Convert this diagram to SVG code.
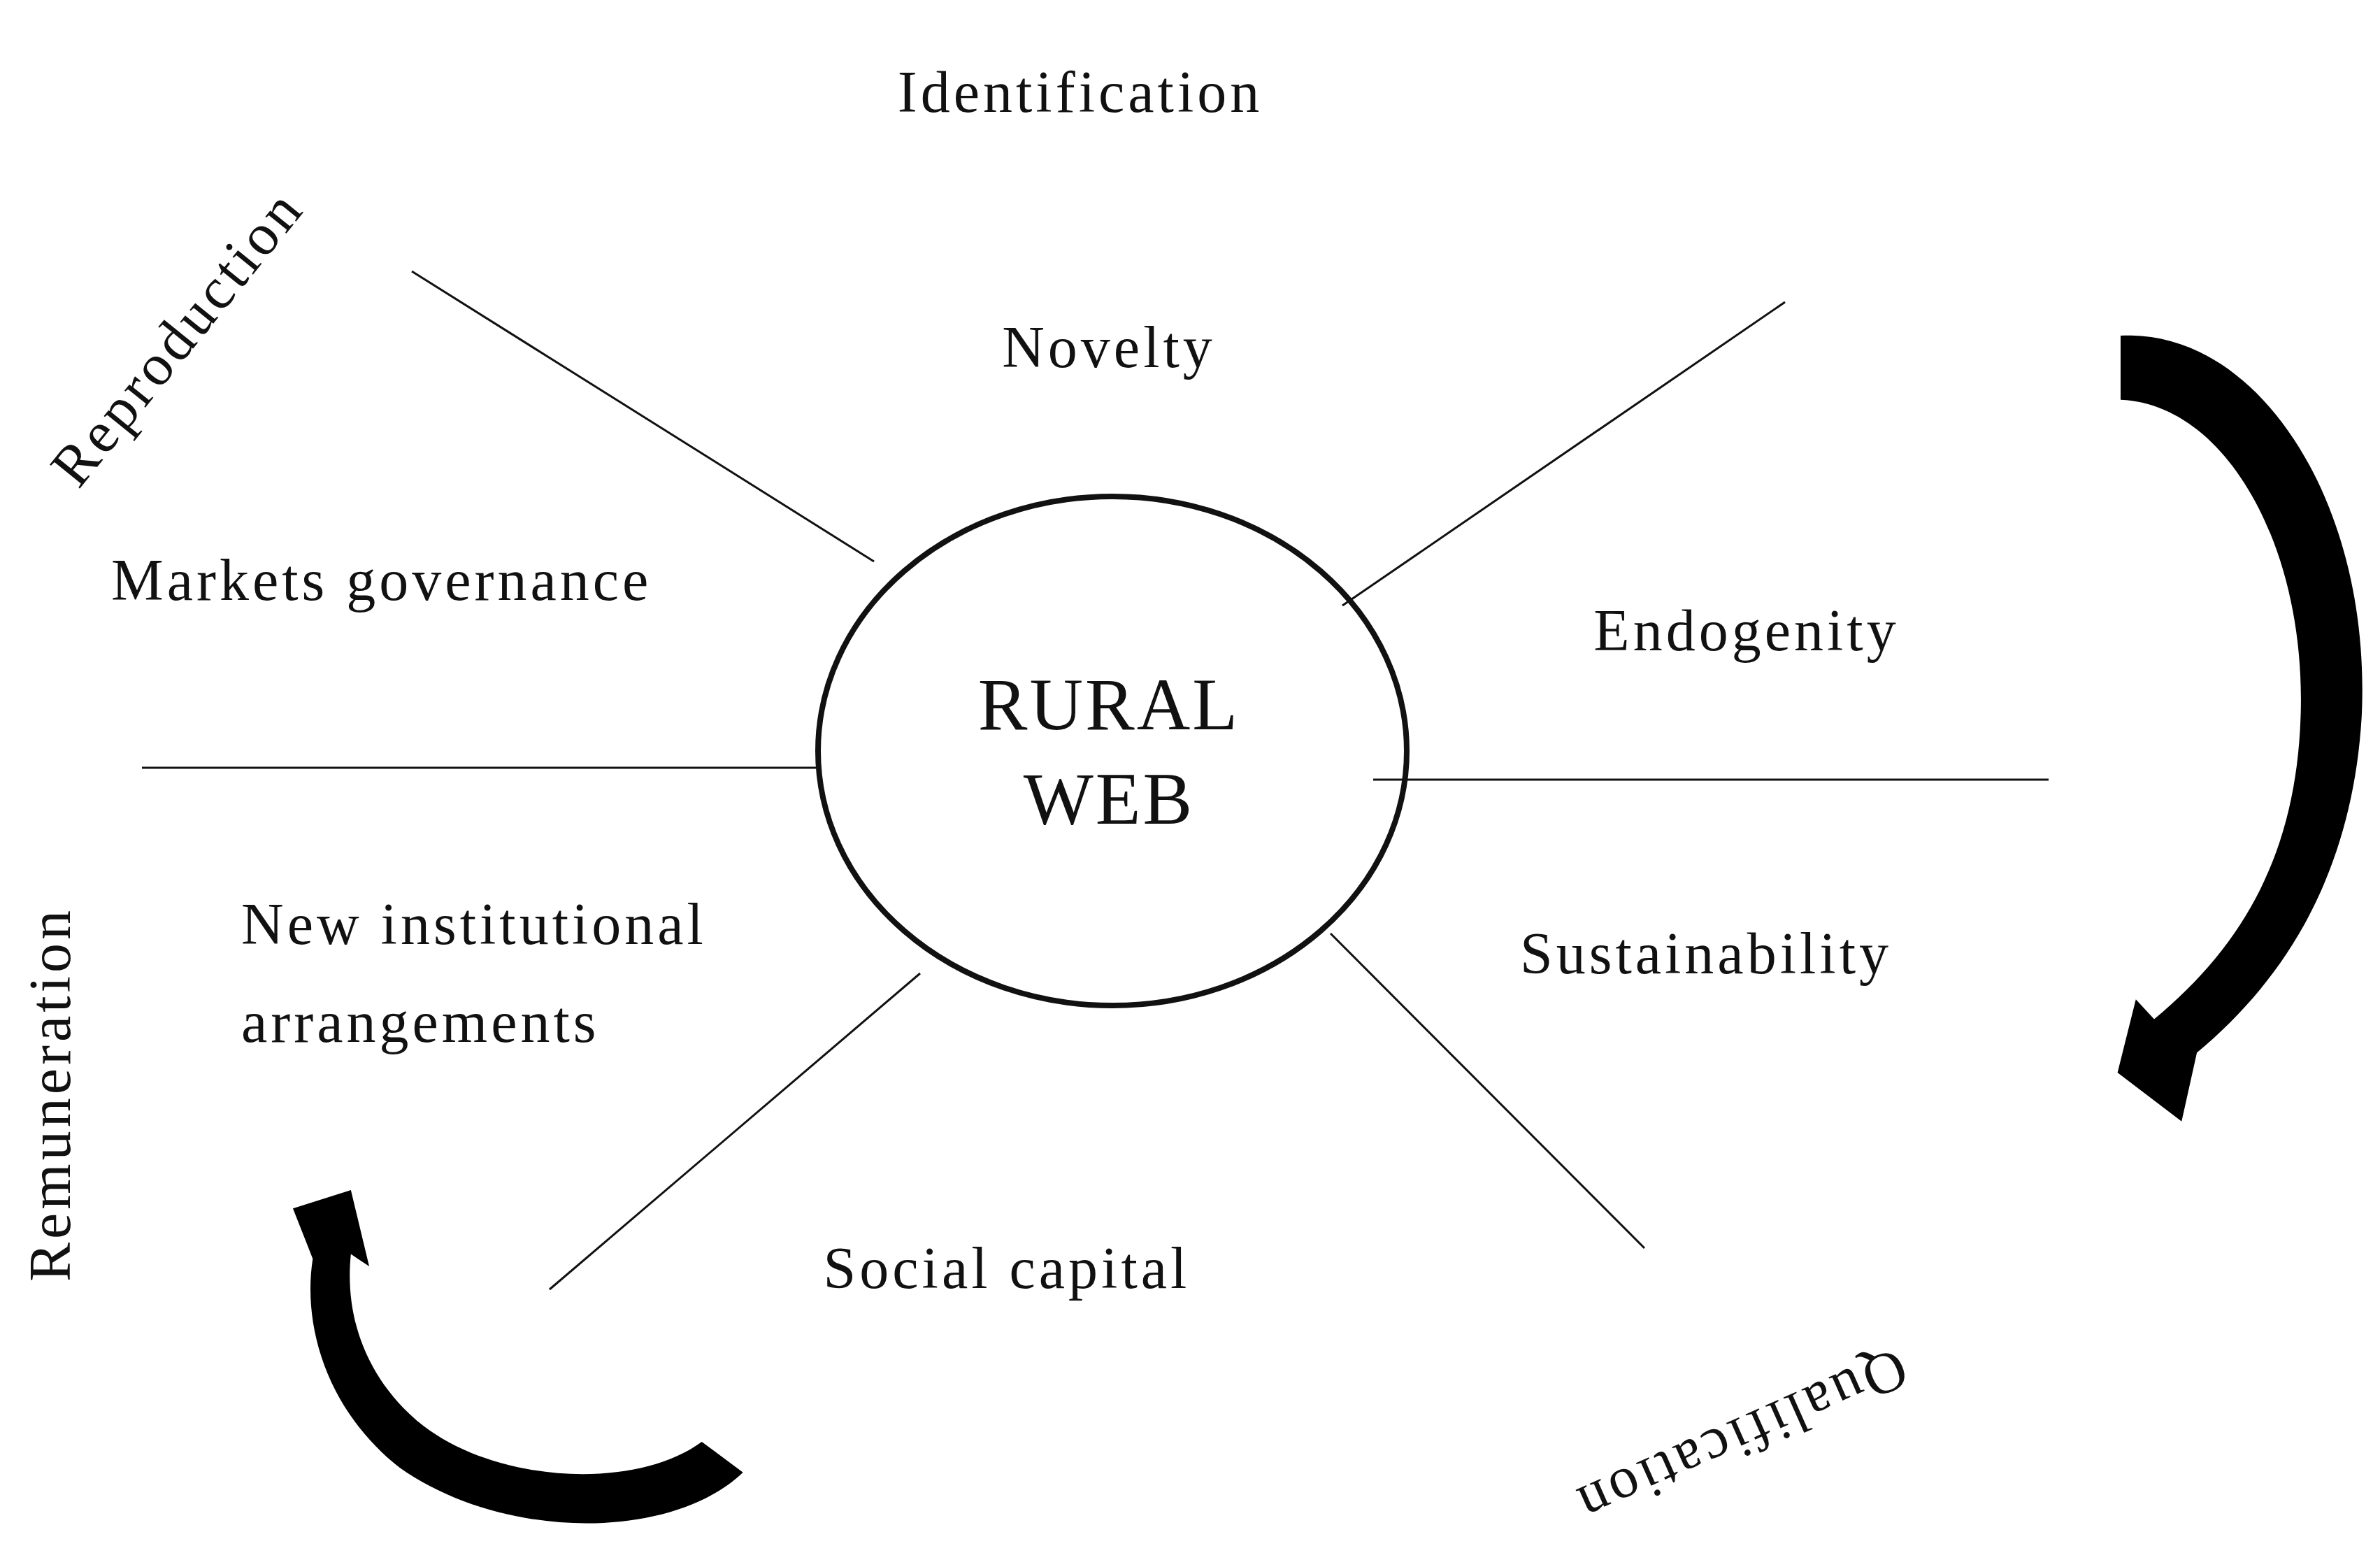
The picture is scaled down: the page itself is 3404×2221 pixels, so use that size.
<svg xmlns="http://www.w3.org/2000/svg" width="3404" height="2221" viewBox="0 0 3404 2221">
<style>
text{font-family:"Liberation Serif","DejaVu Serif",serif;font-size:84px;letter-spacing:5px;fill:#111}
.c{text-anchor:middle}
.big{font-size:106px;letter-spacing:3px}
.ln{stroke:#111;stroke-width:3;fill:none}
</style>
<rect width="3404" height="2221" fill="#fff"/>
<g id="connectors">
<line class="ln" x1="589" y1="388" x2="1250" y2="803"/>
<line class="ln" x1="2553" y1="432" x2="1920" y2="866"/>
<line class="ln" x1="203" y1="1098" x2="1167" y2="1098"/>
<line class="ln" x1="1964" y1="1115" x2="2930" y2="1115"/>
<line class="ln" x1="1316" y1="1392" x2="786" y2="1844"/>
<line class="ln" x1="1903" y1="1335" x2="2352" y2="1785"/>
<g transform="scale(2.182)" fill="#000">
<path d="M1390,220 C1480,215 1555,330 1548,470 C1542,570 1500,640 1440,690 L1430,735 L1388,703 L1400,655 L1412,668 C1470,620 1505,560 1508,470 C1512,360 1460,265 1390,262 Z"/>
<path d="M487,965 C440,1010 330,1010 262,962 C215,925 198,870 205,825 L192,792 L230,780 L242,830 L230,822 C226,860 238,900 272,930 C320,972 415,978 460,945 Z"/>
</g>
</g>
<g id="center"><ellipse cx="1591" cy="1074" rx="421" ry="364" fill="none" stroke="#111" stroke-width="8"/>
<text class="c big" x="1586" y="1043">RURAL</text><text class="c big" x="1586" y="1178">WEB</text></g>
<g id="identification"><text class="c" x="1545" y="160">Identification</text></g>
<g id="novelty"><text class="c" x="1586" y="525">Novelty</text></g>
<g id="markets"><text x="159" y="858">Markets governance</text></g>
<g id="endogenity"><text class="c" x="2498" y="930">Endogenity</text></g>
<g id="sustainability"><text class="c" x="2440" y="1392">Sustainability</text></g>
<g id="institutional"><text x="345" y="1350">New institutional</text><text x="345" y="1490">arrangements</text></g>
<g id="social"><text class="c" x="1440" y="1842">Social capital</text></g>
<g id="reproduction"><text class="c" transform="translate(275,500) rotate(-51)">Reproduction</text></g>
<g id="remuneration"><text class="c" transform="translate(100,1565) rotate(-90)">Remuneration</text></g>
<g id="qualification"><text class="c" transform="translate(2480,2030) rotate(156)">Qualification</text></g>
</svg>
